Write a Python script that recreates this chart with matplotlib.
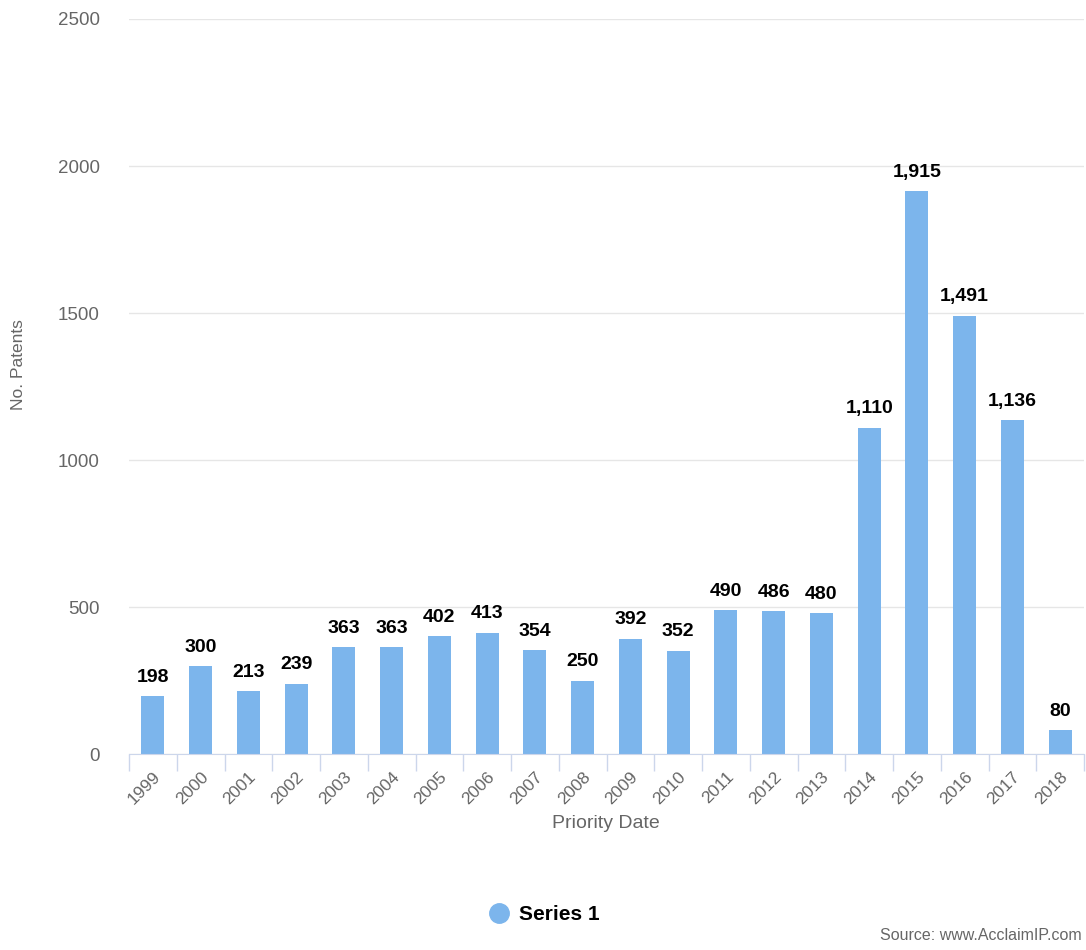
import numpy as np
import matplotlib.pyplot as plt
from matplotlib.lines import Line2D

years = ['1999', '2000', '2001', '2002', '2003', '2004', '2005', '2006', '2007', '2008',
         '2009', '2010', '2011', '2012', '2013', '2014', '2015', '2016', '2017', '2018']
patents = [198, 300, 213, 239, 363, 363, 402, 413, 354, 250,
           392, 352, 490, 486, 480, 1110, 1915, 1491, 1136, 80]
yticks = [0, 500, 1000, 1500, 2000, 2500]

bar_color = '#7cb5ec'
grey = '#666666'
plt.rcParams['font.family'] = ['Liberation Sans', 'DejaVu Sans']

fig = plt.figure(figsize=(10.86, 9.5), dpi=100)
ax = fig.add_axes([0.1188, 0.2063, 0.8794, 0.7737])

x = np.arange(len(years))
ax.bar(x, patents, width=0.48, color=bar_color, zorder=3)

# value labels above the bars
for xi, v in zip(x, patents):
    ax.text(xi, v + 35, f'{v:,}', ha='center', va='bottom', fontsize=14,
            fontweight='bold', color='black', zorder=4)

ax.set_xlim(-0.5, len(years) - 0.5)
ax.set_ylim(0, 2500)
ax.set_yticks(yticks)
ax.set_yticklabels([str(t) for t in yticks], color=grey, fontsize=13.5)
ax.grid(axis='y', color='#e6e6e6', linewidth=1, zorder=0)

# category ticks sit between the bars
ax.set_xticks(x)
ax.set_xticklabels(years, rotation=45, ha='right', rotation_mode='anchor',
                   color=grey, fontsize=12.5)
ax.tick_params(axis='x', length=0, pad=11)
ax.tick_params(axis='y', length=0, pad=21)
ax.set_xticks(np.arange(len(years) + 1) - 0.5, minor=True)
ax.tick_params(axis='x', which='minor', length=12, color='#ccd6eb', width=1)

for s in ['top', 'right', 'left']:
    ax.spines[s].set_visible(False)
ax.spines['bottom'].set_color('#ccd6eb')
ax.spines['bottom'].set_zorder(5)

fig.text(0.558, 1 - 824 / 950, 'Priority Date', ha='center', va='center',
         color=grey, fontsize=14)
fig.text(19 / 1086, 1 - 365 / 950, 'No. Patents', ha='center', va='center',
         rotation=90, color=grey, fontsize=12.5)

handle = Line2D([], [], marker='o', linestyle='none', markersize=14,
                markerfacecolor=bar_color, markeredgecolor=bar_color)
fig.legend([handle], ['Series 1'], loc='center', bbox_to_anchor=(0.5, 1 - 915 / 950),
           frameon=False, prop={'weight': 'bold', 'size': 15},
           handletextpad=0.4, handlelength=1.2)

fig.text(1082 / 1086, 1 - 940 / 950, 'Source: www.AcclaimIP.com', ha='right',
         va='baseline', fontsize=11.5, color=grey)

fig.savefig('out.png', dpi=100, facecolor='white')
